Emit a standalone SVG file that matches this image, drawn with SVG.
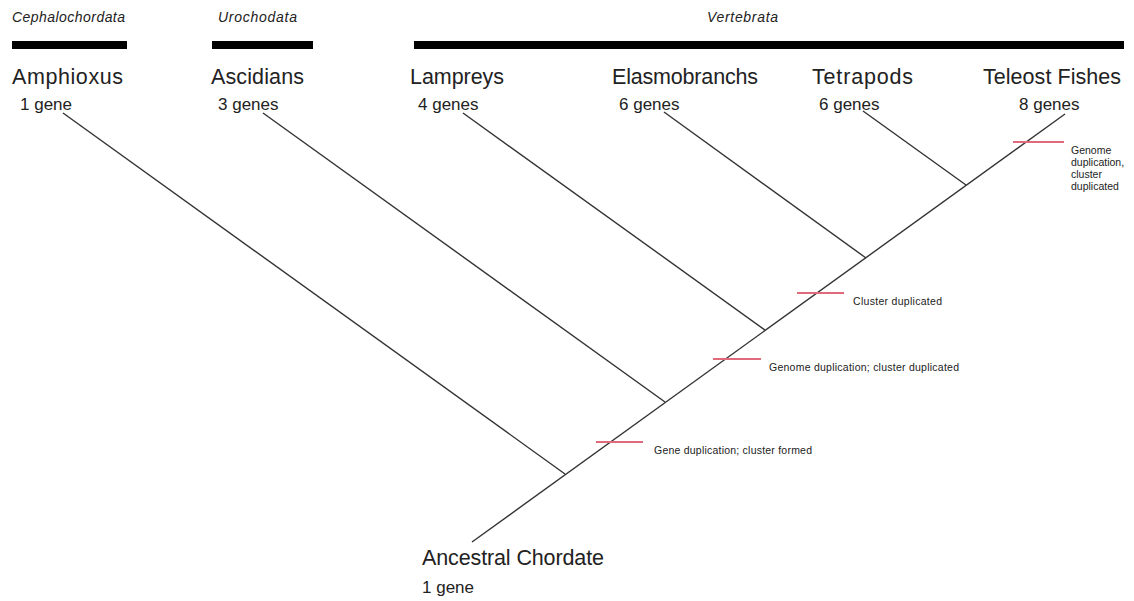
<svg xmlns="http://www.w3.org/2000/svg" width="1134" height="601" viewBox="0 0 1134 601">
<style>
text{font-family:"Liberation Sans",Arial,sans-serif;fill:#222}
.clade{font-size:14px;font-style:italic}
.sp{font-size:21.5px}
.gn{font-size:17px}
.ann{font-size:10.5px}
.bar{fill:#000}
.br{stroke:#333;stroke-width:1.4;fill:none}
.ev{stroke:#e06a7a;stroke-width:2}
</style>
<rect width="1134" height="601" fill="#fff"/>
<g id="clades">
<text class="clade" x="12" y="22" textLength="113">Cephalochordata</text>
<rect class="bar" x="12" y="41" width="115" height="8"/>
<text class="clade" x="218" y="22" textLength="79">Urochodata</text>
<rect class="bar" x="212" y="41" width="101" height="8"/>
<text class="clade" x="707" y="22" textLength="71">Vertebrata</text>
<rect class="bar" x="414" y="41" width="710" height="8"/>
</g>
<g id="connectors">
<line class="br" x1="472" y1="542" x2="1065" y2="114"/>
<line class="br" x1="63" y1="113" x2="565" y2="474"/>
<line class="br" x1="263" y1="113" x2="665" y2="402"/>
<line class="br" x1="463" y1="113" x2="765" y2="330"/>
<line class="br" x1="664" y1="112" x2="866" y2="258"/>
<line class="br" x1="863" y1="111" x2="966" y2="185"/>
</g>
<g id="amphioxus"><text class="sp" x="12" y="84" textLength="111">Amphioxus</text><text class="gn" x="20" y="110">1 gene</text></g>
<g id="ascidians"><text class="sp" x="211" y="84" textLength="93">Ascidians</text><text class="gn" x="218" y="110">3 genes</text></g>
<g id="lampreys"><text class="sp" x="410" y="84" textLength="94">Lampreys</text><text class="gn" x="418" y="110">4 genes</text></g>
<g id="elasmobranchs"><text class="sp" x="612" y="84" textLength="146">Elasmobranchs</text><text class="gn" x="619" y="110">6 genes</text></g>
<g id="tetrapods"><text class="sp" x="812" y="84" textLength="101">Tetrapods</text><text class="gn" x="819" y="110">6 genes</text></g>
<g id="teleost"><text class="sp" x="983" y="84" textLength="138">Teleost Fishes</text><text class="gn" x="1019" y="110">8 genes</text></g>
<g id="ancestral"><text class="sp" x="422" y="565" textLength="182">Ancestral Chordate</text><text class="gn" x="422" y="593">1 gene</text></g>
<g id="event1"><line class="ev" x1="596" y1="442" x2="643" y2="442"/><text class="ann" x="654" y="454" textLength="158">Gene duplication; cluster formed</text></g>
<g id="event2"><line class="ev" x1="713" y1="359" x2="761" y2="359"/><text class="ann" x="769" y="371" textLength="190">Genome duplication; cluster duplicated</text></g>
<g id="event3"><line class="ev" x1="797" y1="293" x2="844" y2="293"/><text class="ann" x="853" y="305" textLength="89">Cluster duplicated</text></g>
<g id="event4"><line class="ev" x1="1013" y1="142" x2="1064" y2="142"/>
<text class="ann" x="1071" y="154">Genome</text>
<text class="ann" x="1071" y="166">duplication,</text>
<text class="ann" x="1071" y="178">cluster</text>
<text class="ann" x="1071" y="190">duplicated</text></g>
</svg>
